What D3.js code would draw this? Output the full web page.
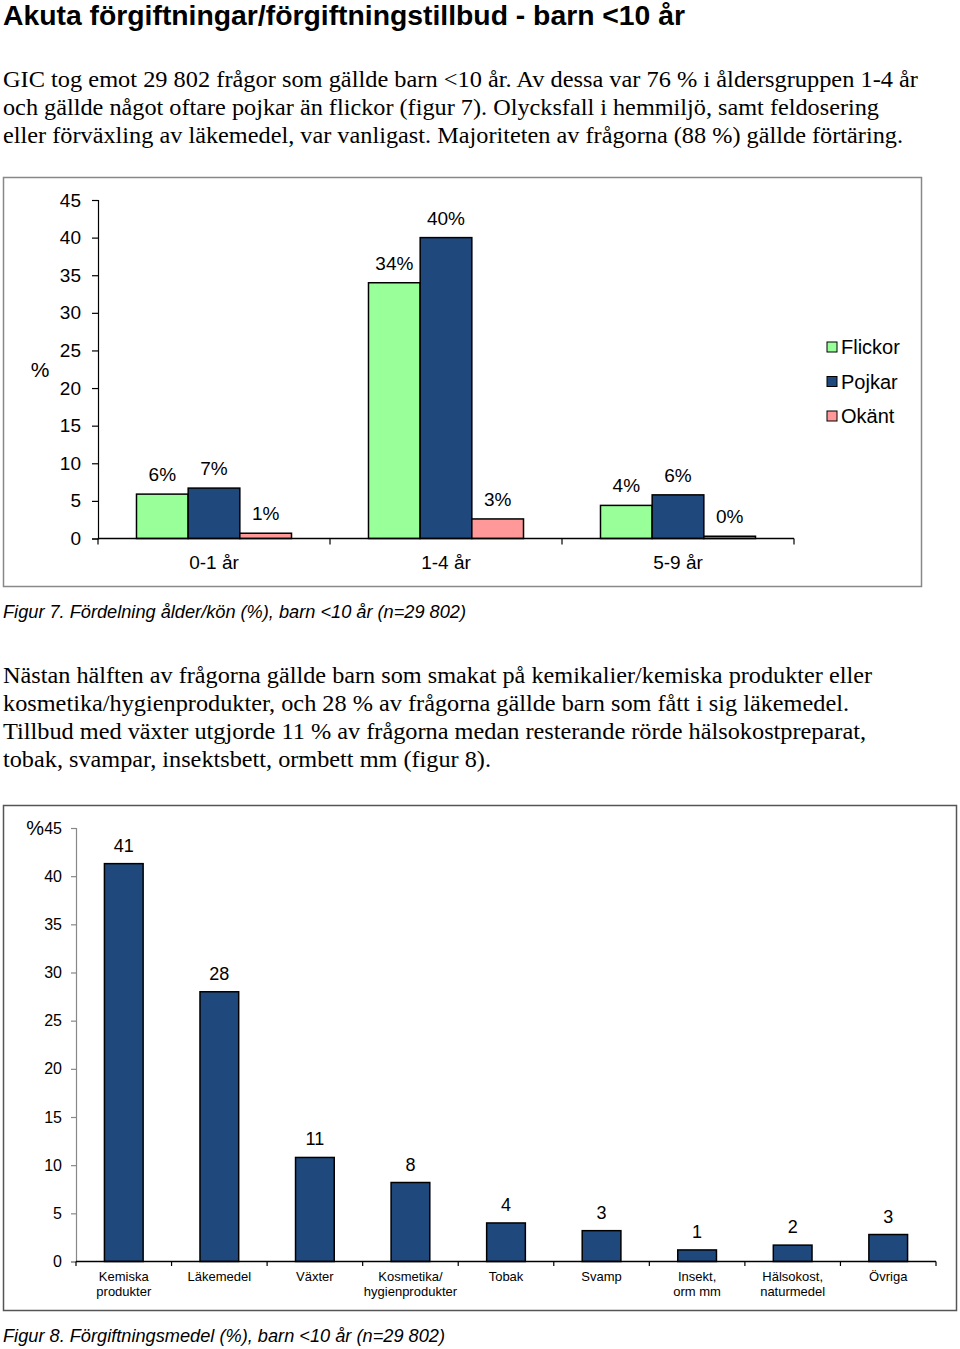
<!DOCTYPE html>
<html><head><meta charset="utf-8">
<script src="https://cdn.jsdelivr.net/npm/d3@7"></script>
<style>
body{margin:0;background:#fff;}
svg{display:block;}
text{font-family:"Liberation Sans",Arial,sans-serif;fill:#000;}
.serif{font-family:"Liberation Serif","Times New Roman",serif;}
</style></head>
<body>
<script>
// ---------- Data ----------
const ageGroups = ["0-1 år", "1-4 år", "5-9 år"];
const seriesNames = ["Flickor", "Pojkar", "Okänt"];
const flickor = [5.9, 34.0, 4.4];
const pojkar = [6.7, 40.0, 5.8];
const okant = [0.7, 2.6, 0.3];
const flickorLabels = ["6%", "34%", "4%"];
const pojkarLabels = ["7%", "40%", "6%"];
const okantLabels = ["1%", "3%", "0%"];
const yTicks = [0, 5, 10, 15, 20, 25, 30, 35, 40, 45];

const agents = ["Kemiska\nprodukter", "Läkemedel", "Växter", "Kosmetika/\nhygienprodukter", "Tobak", "Svamp", "Insekt,\norm mm", "Hälsokost,\nnaturmedel", "Övriga"];
const agentValues = [41.3, 28.0, 10.8, 8.2, 4.0, 3.2, 1.2, 1.7, 2.8];
const agentLabels = ["41", "28", "11", "8", "4", "3", "1", "2", "3"];

const titleText = "Akuta förgiftningar/förgiftningstillbud - barn <10 år";
const para1 = [
  "GIC tog emot 29 802 frågor som gällde barn <10 år. Av dessa var 76 % i åldersgruppen 1-4 år",
  "och gällde något oftare pojkar än flickor (figur 7). Olycksfall i hemmiljö, samt feldosering",
  "eller förväxling av läkemedel, var vanligast. Majoriteten av frågorna (88 %) gällde förtäring."
];
const para2 = [
  "Nästan hälften av frågorna gällde barn som smakat på kemikalier/kemiska produkter eller",
  "kosmetika/hygienprodukter, och 28 % av frågorna gällde barn som fått i sig läkemedel.",
  "Tillbud med växter utgjorde 11 % av frågorna medan resterande rörde hälsokostpreparat,",
  "tobak, svampar, insektsbett, ormbett mm (figur 8)."
];
const caption1 = "Figur 7. Fördelning ålder/kön (%), barn <10 år (n=29 802)";
const caption2 = "Figur 8. Förgiftningsmedel (%), barn <10 år (n=29 802)";

// ---------- Styles ----------
const colors = {"Flickor": "#99FF99", "Pojkar": "#1F497D", "Okänt": "#FF9999"};

const svg = d3.select("body").append("svg").attr("width", 960).attr("height", 1349);

// Title
svg.append("text").attr("x", 3).attr("y", 25)
  .style("font-weight", "bold").style("font-size", "28px")
  .attr("textLength", 682).attr("lengthAdjust", "spacingAndGlyphs")
  .text(titleText);

// Paragraphs
const p1Widths = [915, 876, 900];
para1.forEach((t, i) => {
  svg.append("text").attr("class", "serif").attr("x", 3).attr("y", 87 + i * 28)
    .style("font-size", "23px")
    .attr("textLength", p1Widths[i]).attr("lengthAdjust", "spacingAndGlyphs").text(t);
});
const p2Widths = [869, 846, 863, 488];
para2.forEach((t, i) => {
  svg.append("text").attr("class", "serif").attr("x", 3).attr("y", 683 + i * 28)
    .style("font-size", "23px")
    .attr("textLength", p2Widths[i]).attr("lengthAdjust", "spacingAndGlyphs").text(t);
});

// Captions
svg.append("text").attr("x", 3).attr("y", 618).style("font-style", "italic").style("font-size", "18px")
  .attr("textLength", 463).attr("lengthAdjust", "spacingAndGlyphs").text(caption1);
svg.append("text").attr("x", 3).attr("y", 1342).style("font-style", "italic").style("font-size", "18px")
  .attr("textLength", 442).attr("lengthAdjust", "spacingAndGlyphs").text(caption2);

// ---------- Chart 1 ----------
svg.append("rect").attr("x", 3.5).attr("y", 177.5).attr("width", 918).attr("height", 409)
  .attr("fill", "none").attr("stroke", "#888").attr("stroke-width", 1.5);

const c1 = svg.append("g");
const x1 = d3.scaleBand().domain(ageGroups).range([98, 794]);
const xs1 = d3.scaleBand().domain(seriesNames).range([0, x1.bandwidth()]).paddingOuter(0.745);
const y1 = d3.scaleLinear().domain([0, 45]).range([538.5, 200]);

const yAx1 = c1.append("g").attr("transform", "translate(98,0)")
  .call(d3.axisLeft(y1).tickValues(yTicks).tickSize(6).tickPadding(11));
yAx1.selectAll("text").style("font-size", "19px").style("font-family", "Liberation Sans, Arial");
yAx1.selectAll("line,path").attr("stroke", "#000").attr("stroke-width", 1.2);

const seriesData = {"Flickor": flickor, "Pojkar": pojkar, "Okänt": okant};
const seriesLabels = {"Flickor": flickorLabels, "Pojkar": pojkarLabels, "Okänt": okantLabels};
const bars1 = [];
ageGroups.forEach((g, gi) => seriesNames.forEach(s => bars1.push({g, s, v: seriesData[s][gi], l: seriesLabels[s][gi]})));

c1.selectAll("rect.bar").data(bars1).enter().append("rect").attr("class", "bar")
  .attr("x", d => x1(d.g) + xs1(d.s)).attr("width", xs1.bandwidth())
  .attr("y", d => y1(d.v)).attr("height", d => y1(0) - y1(d.v))
  .attr("fill", d => colors[d.s]).attr("stroke", "#000").attr("stroke-width", 1.5);

c1.selectAll("text.vl").data(bars1).enter().append("text").attr("class", "vl")
  .attr("x", d => x1(d.g) + xs1(d.s) + xs1.bandwidth() / 2)
  .attr("y", d => y1(d.v) - 13)
  .attr("text-anchor", "middle").style("font-size", "19px").text(d => d.l);

// x axis
const xAx1 = c1.append("g").attr("transform", "translate(0,538.5)")
  .call(d3.axisBottom(x1).tickSize(0).tickPadding(17));
xAx1.select(".domain").remove();
xAx1.selectAll("text").style("font-size", "19px").style("font-family", "Liberation Sans, Arial");
c1.append("line").attr("x1", 98).attr("x2", 794).attr("y1", 538.5).attr("y2", 538.5).attr("stroke", "#000").attr("stroke-width", 1.5);
const bounds1 = ageGroups.map(g => x1(g)).concat([x1.range()[1]]);
c1.selectAll("line.bt").data(bounds1).enter().append("line").attr("class", "bt")
  .attr("x1", d => d).attr("x2", d => d).attr("y1", 538.5).attr("y2", 544.5)
  .attr("stroke", "#000").attr("stroke-width", 1.2);

// y label
c1.append("text").attr("x", 40).attr("y", 377).attr("text-anchor", "middle").style("font-size", "21px").text("%");

// Legend
const leg = c1.selectAll("g.leg").data(seriesNames).enter().append("g").attr("class", "leg")
  .attr("transform", (d, i) => `translate(827,${347 + i * 34.5})`);
leg.append("rect").attr("x", 0).attr("y", -5).attr("width", 10).attr("height", 10)
  .attr("fill", d => colors[d]).attr("stroke", "#000").attr("stroke-width", 1);
leg.append("text").attr("x", 14).attr("y", 7).style("font-size", "20px").text(d => d);

// ---------- Chart 2 ----------
svg.append("rect").attr("x", 3.5).attr("y", 805.5).attr("width", 953).attr("height", 505)
  .attr("fill", "none").attr("stroke", "#555").attr("stroke-width", 1.5);

const c2 = svg.append("g");
const x2 = d3.scaleBand().domain(agents).range([76, 936]).paddingInner(0.595).paddingOuter(0.2975);
const y2 = d3.scaleLinear().domain([0, 45]).range([1261.5, 828]);

const yAx2 = c2.append("g").attr("transform", "translate(76,0)")
  .call(d3.axisLeft(y2).tickValues(yTicks).tickSize(5).tickPadding(9));
yAx2.selectAll("text").style("font-size", "16px").style("font-family", "Liberation Sans, Arial");
yAx2.selectAll("line,path").attr("stroke", "#888").attr("stroke-width", 1.2);

c2.selectAll("rect.bar").data(agents).enter().append("rect").attr("class", "bar")
  .attr("x", d => x2(d)).attr("width", x2.bandwidth())
  .attr("y", (d, i) => y2(agentValues[i])).attr("height", (d, i) => y2(0) - y2(agentValues[i]))
  .attr("fill", colors["Pojkar"]).attr("stroke", "#000").attr("stroke-width", 1.5);

c2.selectAll("text.vl").data(agents).enter().append("text").attr("class", "vl")
  .attr("x", d => x2(d) + x2.bandwidth() / 2)
  .attr("y", (d, i) => y2(agentValues[i]) - 12)
  .attr("text-anchor", "middle").style("font-size", "18px").text((d, i) => agentLabels[i]);

c2.append("line").attr("x1", 76).attr("x2", 936).attr("y1", 1261.5).attr("y2", 1261.5).attr("stroke", "#000").attr("stroke-width", 1.5);
const step2 = x2.step();
const bounds2 = d3.range(agents.length + 1).map(i => 76 + i * step2);
c2.selectAll("line.bt").data(bounds2).enter().append("line").attr("class", "bt")
  .attr("x1", d => d).attr("x2", d => d).attr("y1", 1261.5).attr("y2", 1266)
  .attr("stroke", "#000").attr("stroke-width", 1.2);

const cat2 = c2.selectAll("text.cat").data(agents).enter().append("text").attr("class", "cat")
  .attr("text-anchor", "middle").style("font-size", "13px")
  .attr("transform", d => `translate(${x2(d) + x2.bandwidth() / 2},1281)`);
cat2.each(function(d) {
  const lines = d.split("\n");
  const t = d3.select(this);
  lines.forEach((ln, i) => t.append("tspan").attr("x", 0).attr("y", i * 15).text(ln));
});

c2.append("text").attr("x", 44).attr("y", 835).attr("text-anchor", "end").style("font-size", "20px").text("%");
</script>
</body></html>
